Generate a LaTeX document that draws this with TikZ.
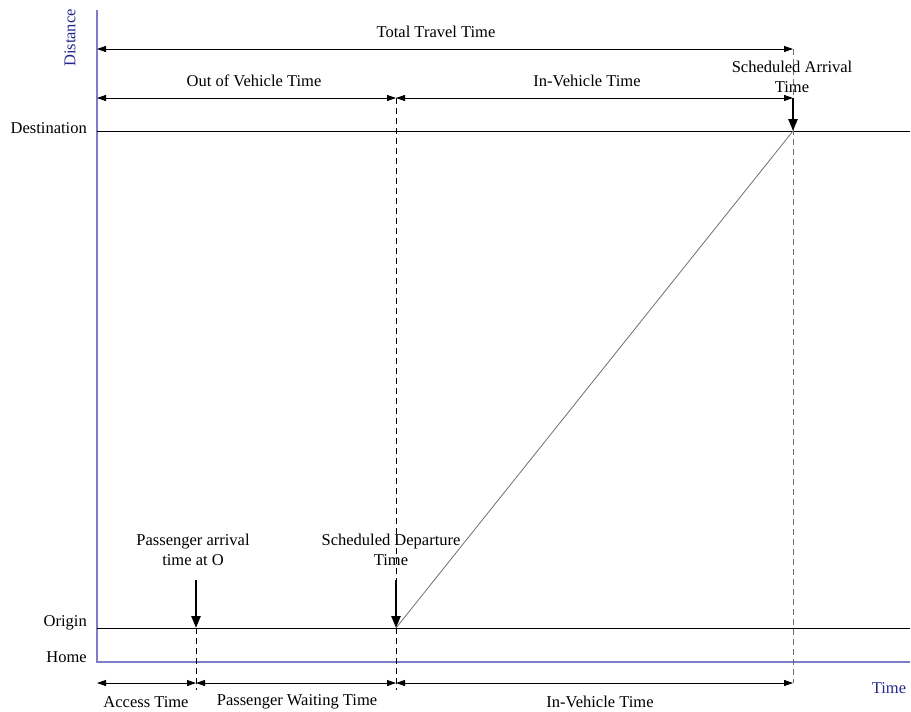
\documentclass[tikz,border=0pt]{standalone}
\usepackage{fontspec}
\setmainfont{Liberation Serif}
\usetikzlibrary{arrows.meta}
\definecolor{axisline}{RGB}{125,125,200}
\definecolor{axistext}{RGB}{40,40,140}
\definecolor{guide}{RGB}{110,110,110}
\tikzset{
  axis/.style={draw=axisline, line width=1.2pt},
  level/.style={draw=black, line width=0.8pt},
  span/.style={{Triangle[length=9pt,width=6pt]}-{Triangle[length=9pt,width=6pt]}, line width=0.8pt},
  guideline/.style={dashed, dash pattern=on 6pt off 4pt, line width=0.8pt},
  event/.style={-{Triangle[length=12pt,width=9pt]}, line width=2.4pt},
  lbl/.style={inner sep=0pt, align=center, font=\fontsize{16.5}{20}\selectfont},
  axlbl/.style={lbl, text=axistext}
}
\begin{document}
\begin{tikzpicture}[x=1pt,y=-1pt]
\useasboundingbox (0,0) rectangle (911,712);

% axes
\coordinate (ytop) at (97,10);
\coordinate (O) at (97,662);
\coordinate (xend) at (910,662);
\draw[axis] (ytop) -- (O) -- (xend);
\node[axlbl, rotate=90] (ylab) at (70,38) {Distance};
\node[axlbl] (xlab) at (889,688) {Time};

% destination and origin levels
\coordinate (dL) at (97,131);
\coordinate (dR) at (910,131);
\coordinate (oL) at (97,628);
\coordinate (oR) at (910,628);
\draw[level] (dL) -- (dR);
\draw[level] (oL) -- (oR);
\node[lbl, anchor=east] (dest) at (87,128) {Destination};
\node[lbl, anchor=east] (orig) at (87,623) {Origin};
\node[lbl, anchor=east] (home) at (87,657) {Home};

% key instants
\coordinate (aO) at (196,628);
\coordinate (aB) at (196,690);
\coordinate (dT) at (396,98);
\coordinate (dO) at (396,628);
\coordinate (dB) at (396,690);
\coordinate (rT) at (793,49);
\coordinate (rD) at (793,131);
\coordinate (rB) at (793,683);

% vertical guides
\draw[guideline] (aO) -- (aB);
\draw[guideline] (dT) -- (dB);
\draw[guideline, draw=guide] (rT) -- (rB);

% vehicle trajectory
\draw[draw=guide, line width=0.8pt] (dO) -- (rD);

% top spans
\coordinate (t1) at (97,49);
\coordinate (t2) at (793,49);
\draw[span] (t1) -- (t2);
\node[lbl] (ttt) at (436,32) {Total Travel Time};

\coordinate (m1) at (97,98);
\coordinate (m2) at (396,98);
\coordinate (m3) at (793,98);
\draw[span] (m1) -- (m2);
\draw[span] (m2) -- (m3);
\node[lbl] (ovt) at (254,81) {Out of Vehicle Time};
\node[lbl] (ivt) at (587,81) {In-Vehicle Time};

% bottom spans
\coordinate (b0) at (97,683);
\coordinate (b1) at (196,683);
\coordinate (b2) at (396,683);
\coordinate (b3) at (793,683);
\draw[span] (b0) -- (b1);
\draw[span] (b1) -- (b2);
\draw[span] (b2) -- (b3);
\node[lbl] (acc) at (146,702) {Access Time};
\node[lbl] (pwt) at (297,702) {Passenger Waiting Time};
\node[lbl] (ivb) at (600,702) {In-Vehicle Time};

% event markers
\coordinate (aS) at (196,580);
\coordinate (dS) at (396,580);
\draw[event] (aS) -- (aO);
\draw[event] (dS) -- (dO);
\draw[event] (m3) -- (rD);
\node[lbl] (pat) at (193,550) {Passenger arrival\\time at O};
\node[lbl] (sdt) at (391,550) {Scheduled Departure\\Time};
\node[lbl] (sat) at (792,77) {Scheduled Arrival\\Time};
\end{tikzpicture}
\end{document}
